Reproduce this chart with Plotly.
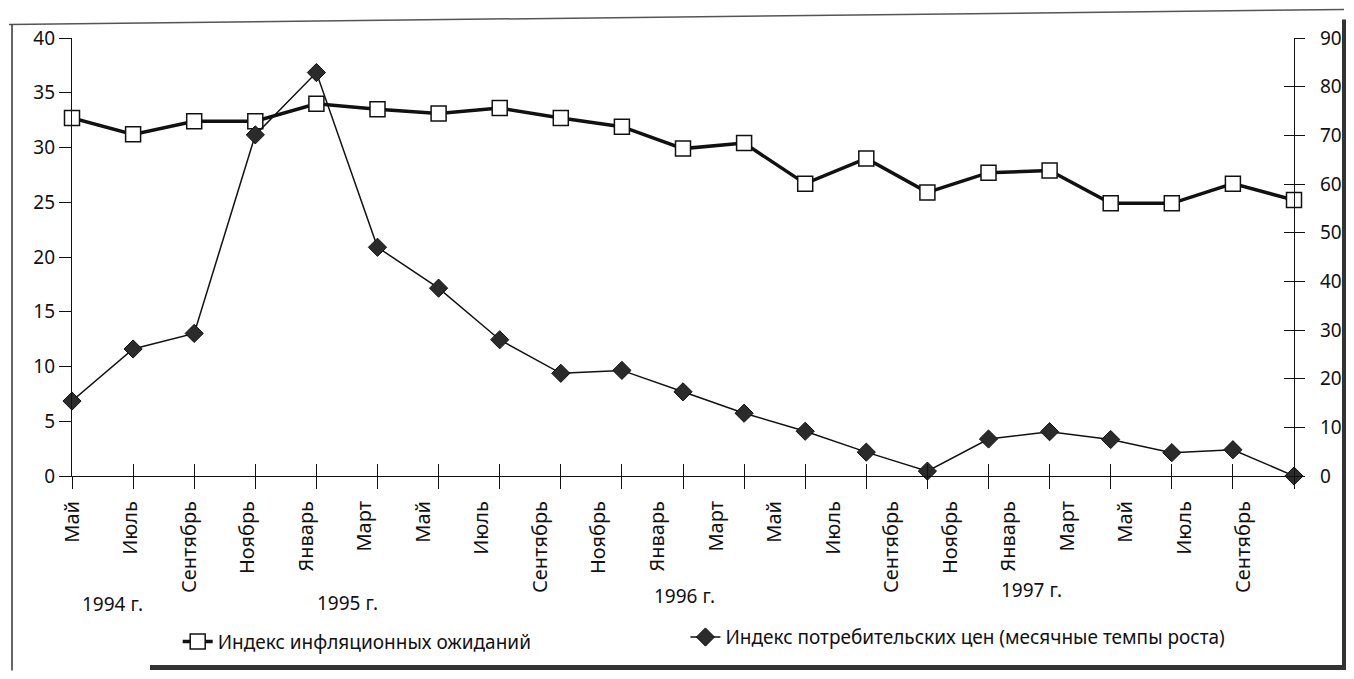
import plotly.graph_objects as go

# month labels under the ticks (May 1994 .. September 1997, every two months)
months = ["Май", "Июль", "Сентябрь", "Ноябрь",
          "Январь", "Март", "Май", "Июль", "Сентябрь", "Ноябрь",
          "Январь", "Март", "Май", "Июль", "Сентябрь", "Ноябрь",
          "Январь", "Март", "Май", "Июль", "Сентябрь"]
years = ["1994 г.", "1995 г.", "1996 г.", "1997 г."]

# left axis: inflation expectations index
expectations = [32.7, 31.2, 32.4, 32.4, 34.0, 33.5, 33.1, 33.6, 32.7, 31.9,
                29.9, 30.4, 26.7, 29.0, 25.9, 27.7, 27.9, 24.9, 24.9, 26.7, 25.2]
# right axis: consumer price index (monthly growth)
cpi = [15.4, 26.1, 29.3, 70.1, 82.9, 47.0, 38.6, 28.0, 21.1, 21.7,
       17.3, 12.9, 9.2, 4.9, 1.0, 7.6, 9.1, 7.5, 4.8, 5.4, 0.0]

pos = list(range(len(months)))
FONT = "Noto Sans"
INK = "#111111"

fig = go.Figure()

fig.add_trace(go.Scatter(
    x=pos, y=expectations, name="Индекс инфляционных ожиданий",
    mode="lines+markers", cliponaxis=False,
    line=dict(color=INK, width=3.5),
    marker=dict(symbol="square", size=15, color="white",
                line=dict(color=INK, width=1.5)),
    xaxis="x", yaxis="y", legend="legend",
))
fig.add_trace(go.Scatter(
    x=pos, y=cpi, name="Индекс потребительских цен (месячные темпы роста)",
    mode="lines+markers", cliponaxis=False,
    line=dict(color=INK, width=1.5),
    marker=dict(symbol="diamond", size=14, color="#2b2b2b",
                line=dict(color=INK, width=1)),
    xaxis="x", yaxis="y2", legend="legend2",
))
# empty helper traces so the extra tick / label axes get drawn
fig.add_trace(go.Scatter(x=[None], y=[None], xaxis="x2", yaxis="y3",
                         showlegend=False, hoverinfo="skip"))
fig.add_trace(go.Scatter(x=[None], y=[None], xaxis="x3", yaxis="y",
                         showlegend=False, hoverinfo="skip"))

tick_font = dict(family=FONT, size=19, color=INK)
month_font = dict(family=FONT, size=20, color=INK)
leg_font = dict(family=FONT, size=19, color=INK)

# page body keeps an 8px margin on every side, so the figure is 16px smaller
fig.update_layout(
    width=1338, height=663,
    margin=dict(l=64, r=52, t=30, b=195, autoexpand=False),
    paper_bgcolor="white", plot_bgcolor="rgba(0,0,0,0)",
    font=dict(family=FONT, size=19, color=INK),
    showlegend=True,
    legend=dict(orientation="h", x=0.0865, y=-0.378, yanchor="middle",
                xanchor="left", font=leg_font, bgcolor="rgba(0,0,0,0)"),
    legend2=dict(orientation="h", x=0.502, y=-0.368, yanchor="middle",
                 xanchor="left", font=leg_font, bgcolor="rgba(0,0,0,0)"),
    xaxis=dict(range=[0, 20], tickvals=pos, showticklabels=False,
               ticks="outside", ticklen=12, tickcolor=INK, tickwidth=1.2,
               showline=True, linecolor=INK, linewidth=1.3,
               showgrid=False, zeroline=False),
    xaxis2=dict(overlaying="x", anchor="y", range=[0, 20], tickvals=pos,
                showticklabels=False, ticks="inside", ticklen=12,
                tickcolor=INK, tickwidth=1.2, showline=False,
                showgrid=False, zeroline=False),
    xaxis3=dict(overlaying="x", anchor="y", range=[0, 20 * 1222 / 1171],
                tickvals=pos, ticktext=months, tickangle=-90,
                tickfont=month_font, ticks="", ticklabelstandoff=20,
                showline=False, showgrid=False, zeroline=False),
    yaxis=dict(range=[0, 40], dtick=5, ticks="outside", ticklen=12,
               tickcolor=INK, tickwidth=1.2, tickfont=tick_font,
               showline=True, linecolor=INK, linewidth=1.3,
               showgrid=False, zeroline=False),
    yaxis2=dict(overlaying="y", side="right", range=[0, 90], dtick=10,
                ticks="outside", ticklen=10, tickcolor=INK, tickwidth=1.2,
                tickfont=tick_font, ticklabelstandoff=11,
                showline=True, linecolor=INK, linewidth=1.3,
                showgrid=False, zeroline=False),
    yaxis3=dict(overlaying="y", side="right", range=[0, 90], dtick=10,
                ticks="inside", ticklen=10, tickcolor=INK, tickwidth=1.2,
                showticklabels=False, showline=False,
                showgrid=False, zeroline=False),
)

# year captions under the month labels
year_x = [0.0065, 0.199, 0.475, 0.759]
year_y = [-0.293, -0.289, -0.275, -0.261]
for txt, xx, yy in zip(years, year_x, year_y):
    fig.add_annotation(text=txt, x=xx, y=yy, xref="paper", yref="paper",
                       xanchor="left", yanchor="middle", showarrow=False,
                       font=dict(family=FONT, size=19, color=INK))


# frame of the scanned figure (window pixels -> paper fractions)
def px(x):
    return (x - 72) / 1222


def py(y):
    return (476.5 - y) / 438


frame = [
    (9, 25, 1344, 10, 1.5, "#555555"),
    (12, 25, 12, 671, 1.5, "#333333"),
    (1344, 20, 1344, 668, 4, "#333333"),
    (150, 668, 1346, 668, 5, "#333333"),
]
for x0, y0, x1, y1, w, c in frame:
    fig.add_shape(type="line", xref="paper", yref="paper",
                  x0=px(x0), y0=py(y0), x1=px(x1), y1=py(y1),
                  line=dict(color=c, width=w))

fig.write_html("out.html")
